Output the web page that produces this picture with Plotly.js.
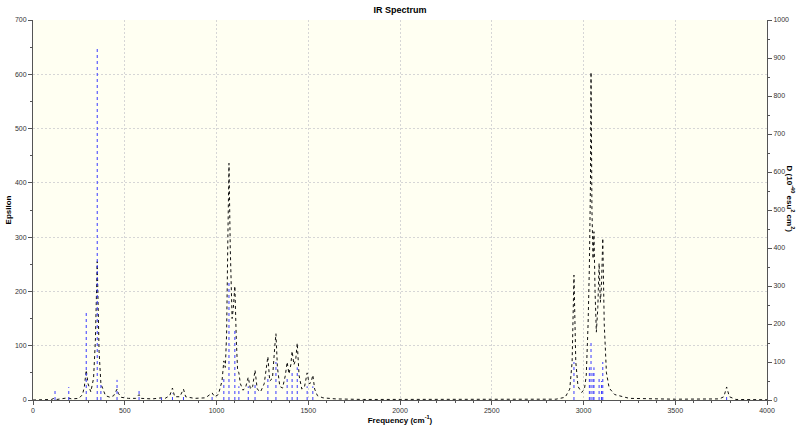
<!DOCTYPE html>
<html>
<head>
<meta charset="utf-8">
<script src="https://cdn.plot.ly/plotly-3.0.1.min.js"></script>
<style>html,body{margin:0;padding:0;background:#fff;}#chart{width:800px;height:427px;}</style>
</head>
<body>
<div id="chart"></div>
<script>
// Spectrum curve (Epsilon, left axis)
const specFreq = [0,100,114,130,190,210,250,270,280,290,300,315,330,340,350,360,370,380,395,420,440,450,458,466,480,520,560,578,590,650,700,720,745,760,772,800,820,832,860,880,940,976,990,1010,1030,1040,1048,1055,1062,1068,1075,1085,1092,1100,1108,1115,1122,1130,1145,1160,1173,1185,1197,1210,1222,1240,1260,1272,1280,1290,1305,1318,1324,1332,1345,1360,1375,1385,1395,1405,1412,1422,1432,1440,1450,1465,1480,1494,1505,1515,1525,1535,1550,1580,1650,1800,2500,2850,2900,2925,2938,2948,2958,2970,2990,3005,3015,3025,3032,3038,3041,3046,3052,3057,3063,3070,3078,3085,3092,3098,3105,3113,3125,3140,3170,3250,3500,3740,3765,3780,3795,3830,4000];
const specEps  = [0,1,3,1,4,2,3,10,25,55,30,15,40,110,255,90,30,20,8,5,8,15,20,12,5,3,3,10,3,2,4,3,8,22,6,6,20,6,5,3,4,13,6,10,35,72,60,120,300,436,280,150,170,210,110,55,50,30,18,25,42,20,25,55,20,15,30,60,80,35,40,100,122,60,25,22,45,70,48,65,90,65,75,105,45,20,25,50,30,32,46,20,8,4,2,1,0.5,1.5,5,20,70,230,70,25,14,20,45,140,245,400,604,350,260,310,200,125,170,252,180,210,298,140,50,22,10,3,1.5,2,6,24,6,1,0.5];
// Stick intensities (D, right axis)
const stickFreq = [120,195,290,350,370,458,578,700,760,820,976,1040,1068,1100,1122,1173,1210,1280,1324,1385,1412,1440,1494,1525,2948,3032,3041,3052,3057,3085,3098,3105,3780];
const stickD    = [24,34,229,929,40,53,24,6,17,14,9,57,314,186,36,36,43,64,100,57,71,86,36,36,100,86,150,71,86,57,50,100,9];
// Axis tick labels
const xTicks = [0,500,1000,1500,2000,2500,3000,3500,4000];
const yTicks = [0,100,200,300,400,500,600,700];
const y2Ticks = [0,100,200,300,400,500,600,700,800,900,1000];

const sx = [], sy = [];
for (let i = 0; i < stickFreq.length; i++) {
  sx.push(stickFreq[i], stickFreq[i], null);
  sy.push(0, stickD[i], null);
}

const FF = 'Liberation Sans, Arial, sans-serif';
const tickFont = {family: FF, size: 7, color: '#333333'};
const traces = [
  {x: sx, y: sy, yaxis: 'y2', mode: 'lines', line: {color: '#3a3aff', width: 1, dash: 'dot'}, hoverinfo: 'skip'},
  {x: specFreq, y: specEps, mode: 'lines', line: {color: '#111', width: 1, dash: 'dot'}}
];
const axisCommon = {
  showline: true, linecolor: '#555', linewidth: 1, ticks: 'outside', ticklen: 4, tickcolor: '#555',
  zeroline: false, tickfont: tickFont
};
const layout = {
  width: 800, height: 427,
  margin: {l: 33, r: 33, t: 20, b: 27},
  paper_bgcolor: '#ffffff', plot_bgcolor: '#fffff2',
  showlegend: false,
  title: {text: '<b>IR Spectrum</b>', font: {family: FF, size: 9, color: '#000'}, x: 0.5, xanchor: 'center', y: 0.985, yanchor: 'top'},
  xaxis: Object.assign({}, axisCommon, {
    range: [0, 4000], tickvals: xTicks, ticktext: xTicks.map(String),
    minor: {dtick: 100, ticks: 'outside', ticklen: 2, tickcolor: '#555', showgrid: false},
    showgrid: true, gridcolor: '#d6d6d6', griddash: '2px,2px', gridwidth: 1,
    title: {text: '<b>Frequency (cm<sup>-1</sup>)</b>', font: {family: FF, size: 8, color: '#000'}, standoff: 1}
  }),
  yaxis: Object.assign({}, axisCommon, {
    range: [0, 700], tickvals: yTicks, ticktext: yTicks.map(String),
    minor: {dtick: 50, ticks: 'outside', ticklen: 2, tickcolor: '#555', showgrid: false},
    showgrid: true, gridcolor: '#d6d6d6', griddash: '2px,2px', gridwidth: 1,
    title: {text: '<b>Epsilon</b>', font: {family: FF, size: 8, color: '#000'}, standoff: 2}
  }),
  yaxis2: Object.assign({}, axisCommon, {
    range: [0, 1000], overlaying: 'y', side: 'right', tickvals: y2Ticks, ticktext: y2Ticks.map(String),
    minor: {dtick: 50, ticks: 'outside', ticklen: 2, tickcolor: '#555', showgrid: false},
    showgrid: false
  }),
  annotations: [{
    text: '<b>D (10<sup>-40</sup> esu<sup>2</sup> cm<sup>2</sup>)</b>', textangle: 90,
    xref: 'paper', yref: 'paper', x: 1, xanchor: 'left', xshift: 17, y: 0.53, yanchor: 'middle',
    showarrow: false, font: {family: FF, size: 8, color: '#000'}
  }]
};
Plotly.newPlot('chart', traces, layout, {displayModeBar: false, staticPlot: true});
</script>
</body>
</html>
